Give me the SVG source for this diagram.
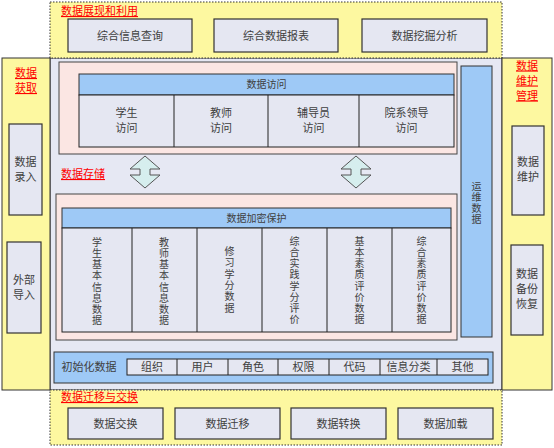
<svg xmlns="http://www.w3.org/2000/svg" width="554" height="448" viewBox="0 0 554 448">
<style>
text{font-family:"Noto Sans CJK SC","Noto Sans",sans-serif;font-size:11px;fill:#404040;text-anchor:middle}
.ttl{fill:#ff0000;text-decoration:underline;text-anchor:start}
.ttlc{fill:#ff0000;text-decoration:underline}
.yel{fill:#fdf8a0;stroke:#333;stroke-width:1}
.dash{stroke-dasharray:1.5 1.5}
.box{fill:#e5e7f2;stroke:#333;stroke-width:1.2}
.blue{fill:#9ec9f6;stroke:#333;stroke-width:1}
.pink{fill:#fbe6e3;stroke:#444;stroke-width:1}
.cell{fill:#e5e7f2;stroke:#222;stroke-width:1}
.ln{stroke:#222;stroke-width:1}
.arr{fill:#d6eeee;stroke:#555;stroke-width:1}
.sm{font-size:10px}
.vt{font-size:10px;writing-mode:vertical-rl;text-anchor:start;letter-spacing:1.2px}
</style>
<defs>
<polygon id="dbl" points="0,-16 15,-3 5,-3 5,3 15,3 0,16 -15,3 -5,3 -5,-3 -15,-3"/>
</defs>
<rect id="middle" x="50" y="58" width="452" height="332" fill="#e6e8f3" stroke="#333" stroke-width="1"/>
<g id="top-panel">
<rect class="yel dash" x="50" y="2" width="452" height="56"/>
<text class="ttl" x="61" y="15">数据展现和利用</text>
<g id="n-query"><rect class="box" x="68" y="19" width="124" height="33"/><text x="130" y="39.5">综合信息查询</text></g>
<g id="n-report"><rect class="box" x="214" y="19" width="124" height="33"/><text x="276" y="39.5">综合数据报表</text></g>
<g id="n-mining"><rect class="box" x="362" y="19" width="125" height="33"/><text x="424.5" y="39.5">数据挖掘分析</text></g>
</g>
<g id="left-panel">
<rect class="yel" x="2" y="58" width="48" height="332"/>
<text class="ttlc" x="26" y="77">数据</text>
<text class="ttlc" x="26" y="92">获取</text>
<g id="n-entry"><rect class="box" x="9" y="124" width="33" height="91"/><text x="25.5" y="165.5">数据</text><text x="25.5" y="180.5">录入</text></g>
<g id="n-import"><rect class="box" x="7" y="242" width="34" height="91"/><text x="24" y="283.5">外部</text><text x="24" y="298.5">导入</text></g>
</g>
<g id="right-panel">
<rect class="yel" x="502" y="58" width="50" height="332"/>
<text class="ttlc" x="527" y="69.5">数据</text>
<text class="ttlc" x="527" y="84.5">维护</text>
<text class="ttlc" x="527" y="99.5">管理</text>
<g id="n-maint"><rect class="box" x="512" y="126" width="32" height="89"/><text x="528" y="165.5">数据</text><text x="528" y="180.5">维护</text></g>
<g id="n-backup"><rect class="box" x="511" y="245" width="32" height="90"/><text x="527" y="278">数据</text><text x="527" y="293">备份</text><text x="527" y="308">恢复</text></g>
</g>
<g id="bottom-panel">
<rect class="yel dash" x="50" y="390" width="452" height="55"/>
<text class="ttl" x="61" y="401">数据迁移与交换</text>
<g id="n-exchange"><rect class="box" x="68" y="408" width="95" height="31"/><text x="115.5" y="427.5">数据交换</text></g>
<g id="n-migrate"><rect class="box" x="175" y="408" width="105" height="31"/><text x="227.5" y="427.5">数据迁移</text></g>
<g id="n-convert"><rect class="box" x="291" y="408" width="95" height="31"/><text x="338.5" y="427.5">数据转换</text></g>
<g id="n-load"><rect class="box" x="398" y="408" width="95" height="31"/><text x="445.5" y="427.5">数据加载</text></g>
</g>
<g id="access">
<rect class="pink" x="59" y="62" width="398" height="92"/>
<rect class="blue" x="79" y="74" width="375" height="21"/>
<text class="sm" x="266.5" y="88">数据访问</text>
<rect class="cell" x="79" y="95" width="375" height="52"/>
<line class="ln" x1="174" y1="95" x2="174" y2="147"/>
<line class="ln" x1="268" y1="95" x2="268" y2="147"/>
<line class="ln" x1="359" y1="95" x2="359" y2="147"/>
<text x="126.5" y="117">学生</text><text x="126.5" y="132">访问</text>
<text x="221" y="117">教师</text><text x="221" y="132">访问</text>
<text x="313.5" y="117">辅导员</text><text x="313.5" y="132">访问</text>
<text x="406.5" y="117">院系领导</text><text x="406.5" y="132">访问</text>
</g>
<g id="connectors">
<use href="#dbl" class="arr" x="145" y="172"/>
<use href="#dbl" class="arr" x="356" y="172"/>
</g>
<text class="ttl" x="61" y="178">数据存储</text>
<g id="storage">
<rect class="pink" x="56" y="194" width="401" height="146"/>
<rect class="blue" x="62" y="208" width="389" height="20"/>
<text class="sm" x="256.5" y="221.5">数据加密保护</text>
<rect class="cell" x="62" y="228" width="389" height="104"/>
<line class="ln" x1="132" y1="228" x2="132" y2="332"/>
<line class="ln" x1="197" y1="228" x2="197" y2="332"/>
<line class="ln" x1="262" y1="228" x2="262" y2="332"/>
<line class="ln" x1="327" y1="228" x2="327" y2="332"/>
<line class="ln" x1="392" y1="228" x2="392" y2="332"/>
<text class="vt" x="97" y="237">学生基本信息数据</text>
<text class="vt" x="164" y="237">教师基本信息数据</text>
<text class="vt" x="229.5" y="246" style="letter-spacing:1.4px">修习学分数据</text>
<text class="vt" x="294.5" y="236">综合实践学分评价</text>
<text class="vt" x="359.5" y="236">基本素质评价数据</text>
<text class="vt" x="421.5" y="236">综合素质评价数据</text>
</g>
<g id="ops">
<rect class="blue" x="461" y="66" width="31" height="271"/>
<text class="vt" x="476.5" y="181" style="letter-spacing:1px">运维数据</text>
</g>
<g id="init">
<rect class="blue" x="54" y="352" width="439" height="31"/>
<text x="89" y="371">初始化数据</text>
<rect class="cell" x="127" y="359" width="361" height="16"/>
<line class="ln" x1="177" y1="359" x2="177" y2="375"/>
<line class="ln" x1="228" y1="359" x2="228" y2="375"/>
<line class="ln" x1="278" y1="359" x2="278" y2="375"/>
<line class="ln" x1="329" y1="359" x2="329" y2="375"/>
<line class="ln" x1="380" y1="359" x2="380" y2="375"/>
<line class="ln" x1="437" y1="359" x2="437" y2="375"/>
<text x="152" y="371">组织</text>
<text x="202.5" y="371">用户</text>
<text x="253" y="371">角色</text>
<text x="303.5" y="371">权限</text>
<text x="354.5" y="371">代码</text>
<text x="408.5" y="371">信息分类</text>
<text x="462.5" y="371">其他</text>
</g>
</svg>
